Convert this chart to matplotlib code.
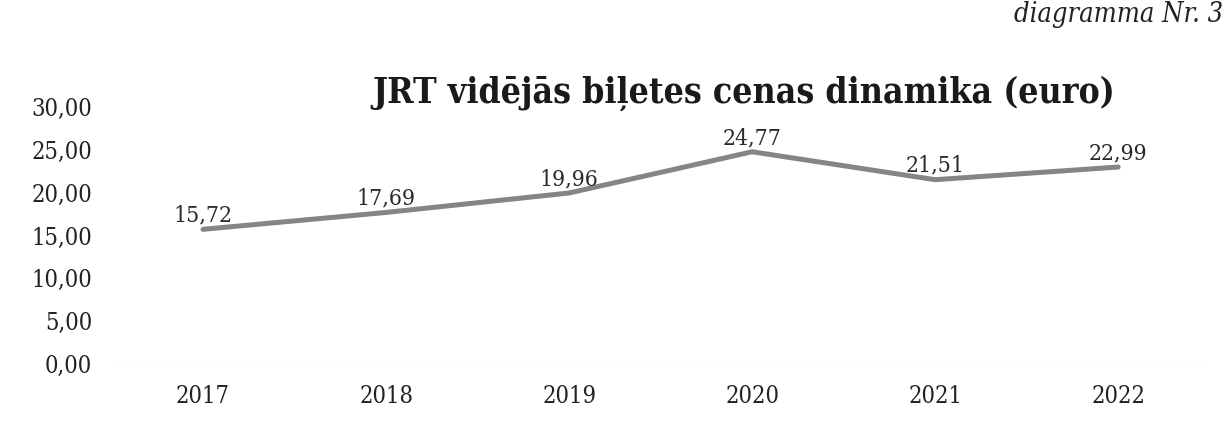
import matplotlib
matplotlib.use("Agg")
import matplotlib.pyplot as plt

years = ["2017", "2018", "2019", "2020", "2021", "2022"]
prices = [15.72, 17.69, 19.96, 24.77, 21.51, 22.99]
yticks = [0, 5, 10, 15, 20, 25, 30]
title = "JRT vidējās biļetes cenas dinamika (euro)"
note = "diagramma Nr. 3"

def fmt(v):
    return f"{v:.2f}".replace(".", ",")

plt.rcParams["font.family"] = ["DejaVu Serif"]
plt.rcParams["font.stretch"] = "condensed"

fig = plt.figure(figsize=(12.27, 4.32), dpi=100)
ax = fig.add_axes([0.0909, 0.1574, 0.895, 0.595])

x = list(range(len(years)))
ax.plot(x, prices, color="#858585", linewidth=3.6, solid_capstyle="round",
        solid_joinstyle="round", zorder=3)
for xi, v in zip(x, prices):
    ax.annotate(fmt(v), (xi, v), xytext=(0, 2), textcoords="offset points",
                ha="center", va="bottom", fontsize=16.5, color="#2a2a2a")

ax.set_xlim(-0.5, len(years) - 0.5)
ax.set_ylim(0, 30)
ax.set_xticks(x)
ax.set_xticklabels(years)
ax.set_yticks(yticks)
ax.set_yticklabels([fmt(t) for t in yticks])
ax.tick_params(axis="y", length=0, pad=14, labelsize=17, labelcolor="#222222")
ax.tick_params(axis="x", length=0, pad=15, labelsize=17, labelcolor="#222222")
for s in ax.spines.values():
    s.set_visible(False)
ax.axhline(0, color="#ececec", linewidth=1, zorder=1)

fig.text(0.606, 0.785, title, ha="center", va="center", fontsize=25.5,
         fontweight="bold", color="#1a1a1a")
fig.text(0.997, 0.948, note, ha="right", va="baseline", fontsize=19.5,
         fontstyle="italic", color="#222222")

fig.savefig("out.png", dpi=100, facecolor="white")
